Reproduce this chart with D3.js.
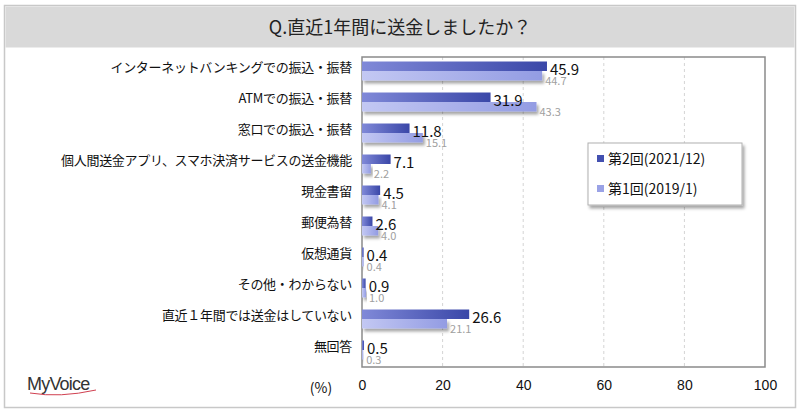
<!DOCTYPE html>
<html>
<head>
<meta charset="utf-8">
<script src="https://cdn.jsdelivr.net/npm/d3@7"></script>
<style>
  body { margin: 0; background: #fff; }
  svg { display: block; font-family: "Noto Sans CJK JP", "Noto Sans", sans-serif; }
</style>
</head>
<body>
<div id="chart"></div>
<script>
// chart data
var categories = [
  "インターネットバンキングでの振込・振替",
  "ATMでの振込・振替",
  "窓口での振込・振替",
  "個人間送金アプリ、スマホ決済サービスの送金機能",
  "現金書留",
  "郵便為替",
  "仮想通貨",
  "その他・わからない",
  "直近１年間では送金はしていない",
  "無回答"
];
var round2 = [45.9, 31.9, 11.8, 7.1, 4.5, 2.6, 0.4, 0.9, 26.6, 0.5];
var round1 = [44.7, 43.3, 15.1, 2.2, 4.1, 4.0, 0.4, 1.0, 21.1, 0.3];
var seriesNames = ["第2回(2021/12)", "第1回(2019/1)"];
var xTicks = [0, 20, 40, 60, 80, 100];

var W = 800, H = 416;
var plot = {left: 362, right: 765, top: 57, bottom: 367};

var svg = d3.select("#chart").append("svg")
  .attr("width", W).attr("height", H);

var defs = svg.append("defs");
// gradients for the two series
var g2 = defs.append("linearGradient").attr("id", "grad2");
g2.append("stop").attr("offset", "0%").attr("stop-color", "#8089d8");
g2.append("stop").attr("offset", "100%").attr("stop-color", "#3a47a8");
var g1 = defs.append("linearGradient").attr("id", "grad1");
g1.append("stop").attr("offset", "0%").attr("stop-color", "#c3c8f3");
g1.append("stop").attr("offset", "100%").attr("stop-color", "#939ce3");

var shadow = defs.append("filter").attr("id", "shadow")
  .attr("x", "-10%").attr("y", "-40%").attr("width", "130%").attr("height", "200%");
shadow.append("feDropShadow")
  .attr("dx", 2).attr("dy", 3).attr("stdDeviation", 1.5)
  .attr("flood-color", "#000").attr("flood-opacity", 0.35);

// outer frame + title band
svg.append("rect")
  .attr("x", 4.5).attr("y", 5.5).attr("width", 791).attr("height", 402)
  .attr("fill", "#fff").attr("stroke", "#c8c8c8").attr("stroke-width", 1.5);
svg.append("rect")
  .attr("x", 5.5).attr("y", 6.5).attr("width", 789).attr("height", 41)
  .attr("fill", "#d9d9d9");
svg.append("text")
  .attr("x", W / 2).attr("y", 34)
  .attr("text-anchor", "middle")
  .attr("font-size", 18).attr("fill", "#222")
  .text("Q.直近1年間に送金しましたか？");

// scales
var x = d3.scaleLinear().domain([0, 100]).range([plot.left, plot.right]);
var y = d3.scaleBand().domain(categories).range([plot.top, plot.bottom]);
var barH = 9.5;

// grid
svg.append("g")
  .selectAll("line")
  .data(xTicks.slice(1, -1))
  .enter()
  .append("line")
    .attr("x1", function(d) { return x(d); })
    .attr("x2", function(d) { return x(d); })
    .attr("y1", plot.top).attr("y2", plot.bottom)
    .attr("stroke", "#d4d4d4")
    .attr("stroke-dasharray", "3,3");

// plot border
svg.append("rect")
  .attr("x", plot.left).attr("y", plot.top)
  .attr("width", plot.right - plot.left).attr("height", plot.bottom - plot.top)
  .attr("fill", "none").attr("stroke", "#8a8a8a").attr("stroke-width", 1.5);

// bars
var rows = categories.map(function(c, i) {
  return {cat: c, v2: round2[i], v1: round1[i]};
});

var groups = svg.append("g").selectAll("g")
  .data(rows)
  .enter()
  .append("g")
  .attr("transform", function(d) { return "translate(0," + y(d.cat) + ")"; });

groups.append("rect")
  .attr("x", x(0))
  .attr("y", 14)
  .attr("width", function(d) { return x(d.v1) - x(0); })
  .attr("height", barH)
  .attr("fill", "url(#grad1)")
  .attr("filter", "url(#shadow)");

groups.append("rect")
  .attr("x", x(0))
  .attr("y", 14 - barH)
  .attr("width", function(d) { return x(d.v2) - x(0); })
  .attr("height", barH)
  .attr("fill", "url(#grad2)");

// value labels (the old-round value sits under the new one, as in the source)
groups.append("text")
  .attr("x", function(d) { return x(d.v1) + 3; })
  .attr("y", 28)
  .attr("font-size", 11).attr("fill", "#a0a0a0")
  .text(function(d) { return d.v1.toFixed(1); });

groups.append("text")
  .attr("x", function(d) { return x(d.v2) + 3; })
  .attr("y", 18)
  .attr("font-size", 15).attr("fill", "#111")
  .text(function(d) { return d.v2.toFixed(1); });

// category labels
svg.append("g").selectAll("text")
  .data(categories)
  .enter()
  .append("text")
    .attr("x", 352)
    .attr("y", function(d) { return y(d) + y.bandwidth() / 2 - 1; })
    .attr("text-anchor", "end")
    .attr("font-size", 13).attr("fill", "#111")
    .attr("letter-spacing", -0.3)
    .text(function(d) { return d; });

// x axis labels
var axis = d3.axisBottom(x).tickValues(xTicks).tickSize(0).tickPadding(13);
var ax = svg.append("g")
  .attr("transform", "translate(0," + plot.bottom + ")")
  .call(axis);
ax.select(".domain").remove();
ax.selectAll("text")
  .attr("font-size", 14).attr("fill", "#111")
  .attr("font-family", "'Liberation Sans', sans-serif");

svg.append("text")
  .attr("x", 321).attr("y", 393)
  .attr("text-anchor", "middle")
  .attr("font-size", 14).attr("fill", "#111")
  .text("(%)");

// legend
var lg = svg.append("g").attr("transform", "translate(588,143)");
lg.append("rect")
  .attr("width", 154).attr("height", 62)
  .attr("fill", "#fff").attr("stroke", "#b0b0b0")
  .attr("filter", "url(#shadow)");
var legendColors = ["#4350b0", "#9aa2e6"];
seriesNames.forEach(function(name, i) {
  lg.append("rect")
    .attr("x", 9).attr("y", 12 + i * 30)
    .attr("width", 7).attr("height", 7)
    .attr("fill", legendColors[i]);
  lg.append("text")
    .attr("x", 20).attr("y", 21 + i * 30)
    .attr("font-size", 14).attr("fill", "#111")
    .text(name);
});

// logo
svg.append("text")
  .attr("x", 27).attr("y", 390)
  .attr("font-family", "'Liberation Sans', sans-serif")
  .attr("font-size", 18).attr("fill", "#333")
  .attr("letter-spacing", -0.8)
  .text("MyVoice");
svg.append("path")
  .attr("d", "M30,393 Q60,398 96,390")
  .attr("fill", "none").attr("stroke", "#d04050").attr("stroke-width", 1);
</script>
</body>
</html>
